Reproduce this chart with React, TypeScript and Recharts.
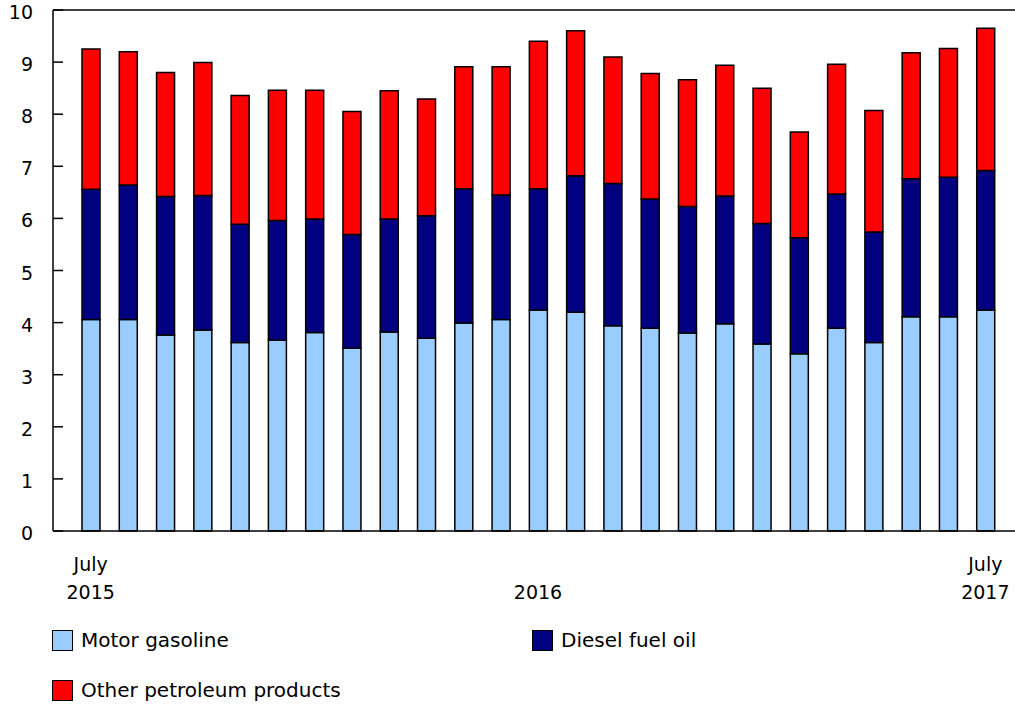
import React from "react";
import { BarChart, Bar, XAxis, YAxis, ReferenceLine } from "recharts";

const months = [
  "Jul 2015", "Aug 2015", "Sep 2015", "Oct 2015", "Nov 2015", "Dec 2015",
  "Jan 2016", "Feb 2016", "Mar 2016", "Apr 2016", "May 2016", "Jun 2016",
  "Jul 2016", "Aug 2016", "Sep 2016", "Oct 2016", "Nov 2016", "Dec 2016",
  "Jan 2017", "Feb 2017", "Mar 2017", "Apr 2017", "May 2017", "Jun 2017",
  "Jul 2017",
];

const motorGasoline = [
  4.06, 4.06, 3.76, 3.86, 3.62, 3.66, 3.81, 3.51, 3.82, 3.70, 3.99, 4.06,
  4.24, 4.20, 3.94, 3.89, 3.80, 3.98, 3.59, 3.40, 3.89, 3.62, 4.11, 4.11,
  4.24,
];

const dieselFuelOil = [
  2.50, 2.58, 2.66, 2.58, 2.27, 2.30, 2.18, 2.18, 2.17, 2.35, 2.58, 2.39,
  2.33, 2.62, 2.73, 2.48, 2.43, 2.45, 2.31, 2.23, 2.58, 2.12, 2.65, 2.68,
  2.68,
];

const otherPetroleum = [
  2.69, 2.56, 2.38, 2.55, 2.47, 2.50, 2.47, 2.36, 2.46, 2.24, 2.34, 2.46,
  2.83, 2.78, 2.43, 2.41, 2.43, 2.51, 2.60, 2.03, 2.49, 2.33, 2.42, 2.47,
  2.73,
];

// tick labels: [line1, line2] keyed by category index
const xTickLabels: Record<number, [string, string]> = {
  0: ["July", "2015"],
  12: ["", "2016"],
  24: ["July", "2017"],
};

const yTicks = [0, 1, 2, 3, 4, 5, 6, 7, 8, 9, 10];

const seriesNames = ["Motor gasoline", "Diesel fuel oil", "Other petroleum products"];
const seriesColors = ["#99CCFF", "#000080", "#FF0000"];

const data = months.map((m, i) => ({
  month: m,
  gas: motorGasoline[i],
  diesel: dieselFuelOil[i],
  other: otherPetroleum[i],
}));

const FONT = "'DejaVu Sans', Verdana, sans-serif";
const FS = 19;

const XTick = (props: any) => {
  const { x, y, index } = props;
  const lab = xTickLabels[index];
  if (!lab) return null;
  return (
    <g>
      {lab[0] ? (
        <text x={x} y={y + 40} textAnchor="middle" fontFamily={FONT} fontSize={FS} fill="#000">
          {lab[0]}
        </text>
      ) : null}
      <text x={x} y={y + 68} textAnchor="middle" fontFamily={FONT} fontSize={FS} fill="#000">
        {lab[1]}
      </text>
    </g>
  );
};

const YTick = (props: any) => {
  const { x, y, payload } = props;
  return (
    <g>
      <line x1={x} x2={x + 10} y1={y} y2={y} stroke="#000" strokeWidth={1.5} />
      <text x={x - 20} y={y + 9} textAnchor="end" fontFamily={FONT} fontSize={FS} fill="#000">
        {payload.value}
      </text>
    </g>
  );
};

const LegendItem = ({ left, top, color, label }: any) => (
  <div style={{ position: "absolute", left, top, display: "flex", alignItems: "center" }}>
    <div
      style={{
        width: 19,
        height: 19,
        background: color,
        border: "1.5px solid #000",
        boxSizing: "content-box",
      }}
    />
    <span style={{ marginLeft: 8, fontFamily: FONT, fontSize: 20, color: "#000", lineHeight: "22px" }}>
      {label}
    </span>
  </div>
);

export default function App() {
  return (
    <div style={{ position: "absolute", left: 0, top: 0, width: 1015, height: 705, background: "#fff" }}>
      <BarChart
        width={1015}
        height={705}
        data={data}
        margin={{ top: 10, right: 0, bottom: 0, left: 0 }}
        barCategoryGap={0}
      >
        <XAxis
          dataKey="month"
          height={174}
          interval={0}
          tickLine={false}
          tickSize={0}
          tickMargin={0}
          axisLine={{ stroke: "#000", strokeWidth: 1.5 }}
          padding={{ left: 19, right: 11 }}
          tick={<XTick />}
        />
        <YAxis
          width={53}
          domain={[0, 10]}
          ticks={yTicks}
          interval={0}
          tickLine={false}
          tickSize={0}
          tickMargin={0}
          axisLine={{ stroke: "#000", strokeWidth: 1.5 }}
          tick={<YTick />}
        />
        <ReferenceLine y={10} stroke="#000" strokeWidth={1.5} />
        <Bar dataKey="gas" name={seriesNames[0]} stackId="a" fill={seriesColors[0]} stroke="#000" strokeWidth={1.5} barSize={18} isAnimationActive={false} />
        <Bar dataKey="diesel" name={seriesNames[1]} stackId="a" fill={seriesColors[1]} stroke="#000" strokeWidth={1.5} barSize={18} isAnimationActive={false} />
        <Bar dataKey="other" name={seriesNames[2]} stackId="a" fill={seriesColors[2]} stroke="#000" strokeWidth={1.5} barSize={18} isAnimationActive={false} />
      </BarChart>
      <LegendItem left={52} top={629} color={seriesColors[0]} label={seriesNames[0]} />
      <LegendItem left={532} top={629} color={seriesColors[1]} label={seriesNames[1]} />
      <LegendItem left={52} top={679} color={seriesColors[2]} label={seriesNames[2]} />
    </div>
  );
}
